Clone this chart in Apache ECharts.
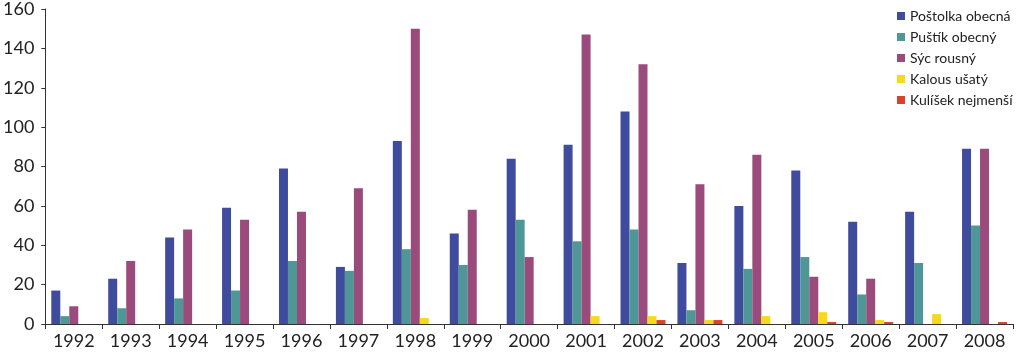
<!DOCTYPE html>
<html>
<head>
<meta charset="utf-8">
<script src="https://cdn.jsdelivr.net/npm/echarts@6/dist/echarts.min.js"></script>
<style>
  html, body { margin: 0; padding: 0; background: #fff; }
  #chart { width: 1018px; height: 354px; }
</style>
</head>
<body>
<div id="chart"></div>
<script>
const years = ['1992', '1993', '1994', '1995', '1996', '1997', '1998', '1999', '2000',
  '2001', '2002', '2003', '2004', '2005', '2006', '2007', '2008'];
const postolka = [17, 23, 44, 59, 79, 29, 93, 46, 84, 91, 108, 31, 60, 78, 52, 57, 89];
const pustik = [4, 8, 13, 17, 32, 27, 38, 30, 53, 42, 48, 7, 28, 34, 15, 31, 50];
const sycRousny = [9, 32, 48, 53, 57, 69, 150, 58, 34, 147, 132, 71, 86, 24, 23, 0, 89];
const kalous = [0, 0, 0, 0, 0, 0, 3, 0, 0, 4, 4, 2, 4, 6, 2, 5, 0];
const kulisek = [0, 0, 0, 0, 0, 0, 0, 0, 0, 0, 2, 2, 0, 1, 1, 0, 1];

const names = ['Poštolka obecná', 'Puštík obecný', 'Sýc rousný', 'Kalous ušatý', 'Kulíšek nejmenší'];
const colors = ['#3f4b9d', '#4f9796', '#9a4a7b', '#f8d81c', '#d8432c'];
const values = [postolka, pustik, sycRousny, kalous, kulisek];

const chart = echarts.init(document.getElementById('chart'));
const font = 'Lato, "Open Sans", sans-serif';

chart.setOption({
  animation: false,
  color: colors,
  textStyle: { fontFamily: font },
  grid: { left: 43, right: 5, top: 9, bottom: 30 },
  legend: {
    orient: 'vertical',
    left: 892,
    top: 4,
    itemWidth: 8,
    itemHeight: 8,
    itemGap: 7,
    icon: 'rect',
    textStyle: { fontSize: 14, color: '#222', fontFamily: font },
    data: names
  },
  xAxis: {
    type: 'category',
    data: years,
    axisLine: { lineStyle: { color: '#333', width: 1 } },
    axisTick: { show: true, length: 5, lineStyle: { color: '#333' } },
    axisLabel: { fontSize: 18, color: '#222', margin: 8, fontFamily: font },
    splitLine: { show: false }
  },
  yAxis: {
    type: 'value',
    min: 0,
    max: 160,
    interval: 20,
    axisLine: { show: true, lineStyle: { color: '#333', width: 1 } },
    axisTick: { show: true, length: 4, lineStyle: { color: '#333' } },
    axisLabel: { fontSize: 18, color: '#222', margin: 11, fontFamily: font },
    splitLine: { show: false }
  },
  series: names.map((n, i) => ({
    name: n,
    type: 'bar',
    data: values[i],
    barGap: '0%',
    barCategoryGap: '21%'
  }))
});
</script>
</body>
</html>
